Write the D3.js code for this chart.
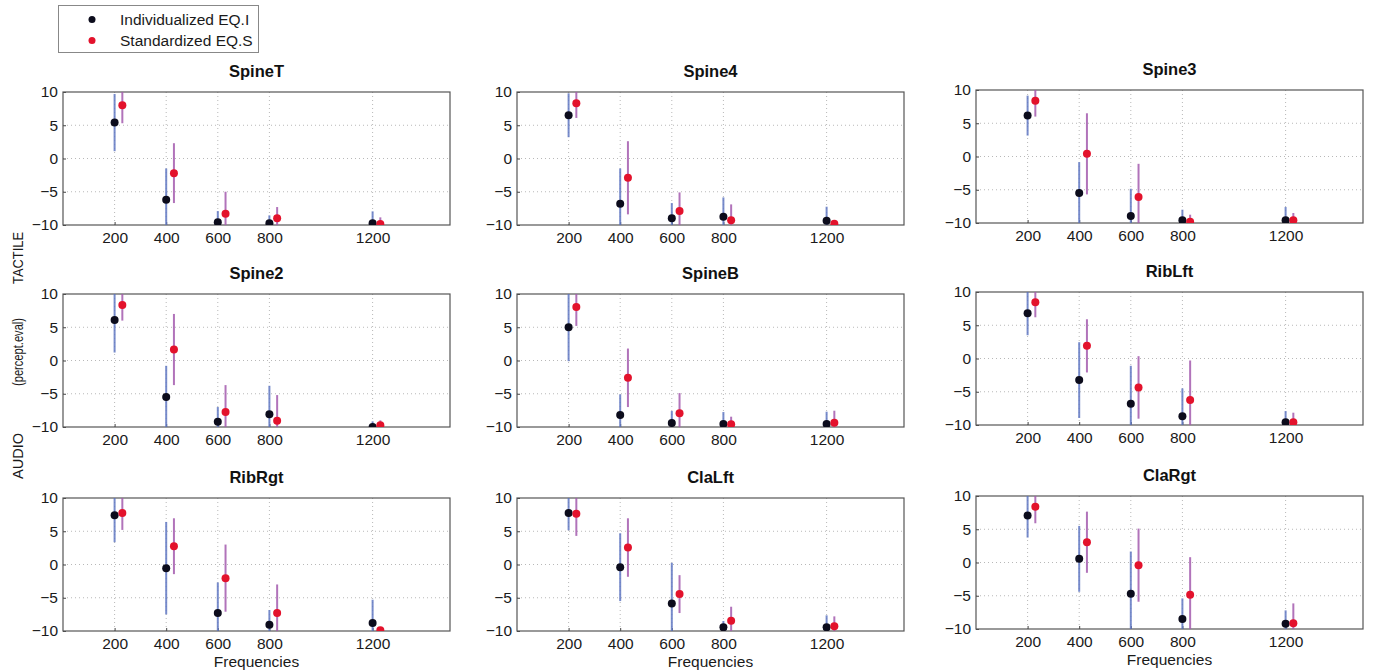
<!DOCTYPE html>
<html><head><meta charset="utf-8">
<script src="https://cdn.jsdelivr.net/npm/d3@7"></script>
<style>
body{margin:0;background:#fff;}
svg{display:block;font-family:"Liberation Sans",Arial,Helvetica,sans-serif;}
</style></head>
<body><svg id="chart" width="1379" height="672"></svg>
<script>
const panels = ["SpineT","Spine4","Spine3","Spine2","SpineB","RibLft","RibRgt","ClaLft","ClaRgt"];
const frequencies = [200,400,600,800,1200];
const xTicks = [200,400,600,800,1200];
const yTicks = [10,5,0,-5,-10];
const seriesNames = ["Individualized EQ.I","Standardized EQ.S"];
// Individualized (black) means and error half-lengths
const indMean = [
  [5.4,-6.2,-9.6,-9.75,-9.75],
  [6.5,-6.8,-9.0,-8.75,-9.35],
  [6.15,-5.5,-8.95,-9.6,-9.6],
  [6.1,-5.5,-9.2,-8.1,-10.0],
  [5.0,-8.2,-9.4,-9.55,-9.55],
  [6.8,-3.25,-6.8,-8.7,-9.6],
  [7.4,-0.55,-7.3,-9.05,-8.8],
  [7.75,-0.4,-5.85,-9.45,-9.45],
  [7.05,0.55,-4.7,-8.5,-9.2]
];
const indErr = [
  [4.3,4.7,1.7,1.2,1.8],
  [3.3,5.3,2.3,2.9,2.1],
  [3.0,4.65,4.1,1.6,2.0],
  [4.9,4.7,2.2,4.3,0.85],
  [5.1,3.1,1.8,1.8,1.85],
  [3.3,5.7,5.7,4.2,1.7],
  [4.05,6.95,4.6,2.2,3.5],
  [2.6,5.1,6.1,0.95,1.8],
  [3.3,4.95,6.35,3.1,2.0]
];
// Standardized (red) means and error half-lengths
const stdMean = [
  [8.0,-2.2,-8.3,-9.0,-9.85],
  [8.3,-2.9,-7.9,-9.3,-9.8],
  [8.4,0.4,-6.1,-9.8,-9.6],
  [8.35,1.65,-7.75,-9.05,-9.75],
  [8.05,-2.6,-7.95,-9.6,-9.35],
  [8.45,1.9,-4.35,-6.25,-9.6],
  [7.75,2.75,-2.05,-7.3,-9.9],
  [7.65,2.55,-4.45,-8.45,-9.3],
  [8.4,3.05,-0.4,-4.85,-9.15]
];
const stdErr = [
  [2.7,4.5,3.3,1.7,1.0],
  [2.2,5.5,2.8,2.4,0.5],
  [2.4,6.1,5.0,1.05,1.1],
  [2.35,5.35,4.05,3.85,0.75],
  [2.85,4.4,3.05,1.15,1.8],
  [2.25,4.0,4.7,5.95,1.45],
  [2.55,4.2,5.05,4.3,0.3],
  [3.35,4.4,2.85,2.1,1.5],
  [2.5,4.6,5.5,5.65,3.0]
];
const stdOffset = 30; // horizontal shift of the standardized series (frequency units)

const svg = d3.select("#chart");
const colLeft = [63, 517, 976];
const colYShift = [0, 0, -2];
const rowTop = [92, 294, 498];
const W = 387, H = 133;
const FONT = "Liberation Sans, Arial, sans-serif";

const defs = svg.append("defs");

panels.forEach((name, p) => {
  const c = p % 3, r = Math.floor(p / 3);
  const left = colLeft[c], top = rowTop[r] + colYShift[c];
  const x = d3.scaleLinear().domain([0,1500]).range([0, W]);
  const y = d3.scaleLinear().domain([-10,10]).range([H, 0]);
  const g = svg.append("g").attr("transform", `translate(${left},${top})`);

  defs.append("clipPath").attr("id","clip"+p)
    .append("rect").attr("x",0).attr("y",0).attr("width",W).attr("height",H);

  // grid
  g.append("g").selectAll("line").data(xTicks).join("line")
    .attr("x1",d=>x(d)).attr("x2",d=>x(d)).attr("y1",0).attr("y2",H)
    .attr("stroke","#b8b8b8").attr("stroke-width",1).attr("stroke-dasharray","1,3");
  g.append("g").selectAll("line").data(yTicks.filter(v=>v>-10 && v<10)).join("line")
    .attr("x1",0).attr("x2",W).attr("y1",d=>y(d)).attr("y2",d=>y(d))
    .attr("stroke","#b8b8b8").attr("stroke-width",1).attr("stroke-dasharray","1,3");

  // axes
  const xAxis = d3.axisBottom(x).tickValues(xTicks).tickSize(-3).tickPadding(7).tickFormat(d3.format("d"));
  const ax = g.append("g").attr("transform",`translate(0,${H})`).call(xAxis);
  ax.select(".domain").remove();
  ax.selectAll("line").attr("stroke","#444");
  ax.selectAll("text").attr("font-size",15.5).attr("fill","#1a1a1a").attr("font-family",FONT);

  const yAxis = d3.axisLeft(y).tickValues(yTicks).tickSize(-3).tickPadding(5)
    .tickFormat(d => d < 0 ? "\u2212" + Math.abs(d) : String(d));
  const ay = g.append("g").call(yAxis);
  ay.select(".domain").remove();
  ay.selectAll("line").attr("stroke","#444");
  ay.selectAll("text").attr("font-size",15.5).attr("fill","#1a1a1a").attr("font-family",FONT);

  // box
  g.append("rect").attr("x",0).attr("y",0).attr("width",W).attr("height",H)
    .attr("fill","none").attr("stroke","#555").attr("stroke-width",1.2);

  // title
  g.append("text").attr("x",W/2).attr("y",-15).attr("text-anchor","middle")
    .attr("font-size",16.5).attr("font-weight","bold").attr("fill","#111").text(name);

  if (r === 2) {
    g.append("text").attr("x",W/2).attr("y",H+36).attr("text-anchor","middle")
      .attr("font-size",15.5).attr("fill","#1a1a1a").text("Frequencies");
  }

  const ind = frequencies.map((f,i)=>({f, m:indMean[p][i], e:indErr[p][i]}));
  const std = frequencies.map((f,i)=>({f:f+stdOffset, m:stdMean[p][i], e:stdErr[p][i]}));

  const cg = g.append("g").attr("clip-path",`url(#clip${p})`);
  cg.append("g").selectAll("line").data(ind).join("line")
    .attr("x1",d=>x(d.f)).attr("x2",d=>x(d.f))
    .attr("y1",d=>y(d.m+d.e)).attr("y2",d=>y(d.m-d.e))
    .attr("stroke","#5f77c2").attr("stroke-opacity",0.85).attr("stroke-width",2);
  cg.append("g").selectAll("line").data(std).join("line")
    .attr("x1",d=>x(d.f)).attr("x2",d=>x(d.f))
    .attr("y1",d=>y(d.m+d.e)).attr("y2",d=>y(d.m-d.e))
    .attr("stroke","#a35aae").attr("stroke-opacity",0.85).attr("stroke-width",2);
  cg.append("g").selectAll("circle").data(ind).join("circle")
    .attr("cx",d=>x(d.f)).attr("cy",d=>y(d.m)).attr("r",4)
    .attr("fill","#0c0c1c");
  cg.append("g").selectAll("circle").data(std).join("circle")
    .attr("cx",d=>x(d.f)).attr("cy",d=>y(d.m)).attr("r",4)
    .attr("fill","#e3122c");
});

// left vertical labels
const leftLabels = [{t:"TACTILE", y:258, len:52},{t:"(percept.eval)", y:352, len:68},{t:"AUDIO", y:456, len:46}];
svg.append("g").selectAll("text").data(leftLabels).join("text")
  .attr("transform",d=>`translate(23,${d.y}) rotate(-90)`)
  .attr("text-anchor","middle").attr("font-size",14.5).attr("fill","#1a1a1a")
  .attr("textLength",d=>d.len).attr("lengthAdjust","spacingAndGlyphs")
  .text(d=>d.t);

// legend
const lg = svg.append("g");
lg.append("rect").attr("x",58.5).attr("y",5.5).attr("width",200).attr("height",47)
  .attr("fill","#fff").attr("stroke","#888").attr("stroke-width",1);
const legColors = ["#0c0c1c","#e3122c"];
seriesNames.forEach((s,i)=>{
  lg.append("circle").attr("cx",92).attr("cy",19.5+i*21).attr("r",3.5).attr("fill",legColors[i]);
  lg.append("text").attr("x",120).attr("y",19.5+i*21).attr("dy","0.35em")
    .attr("font-size",15.5).attr("fill","#1a1a1a").text(s);
});
</script>
</body></html>
